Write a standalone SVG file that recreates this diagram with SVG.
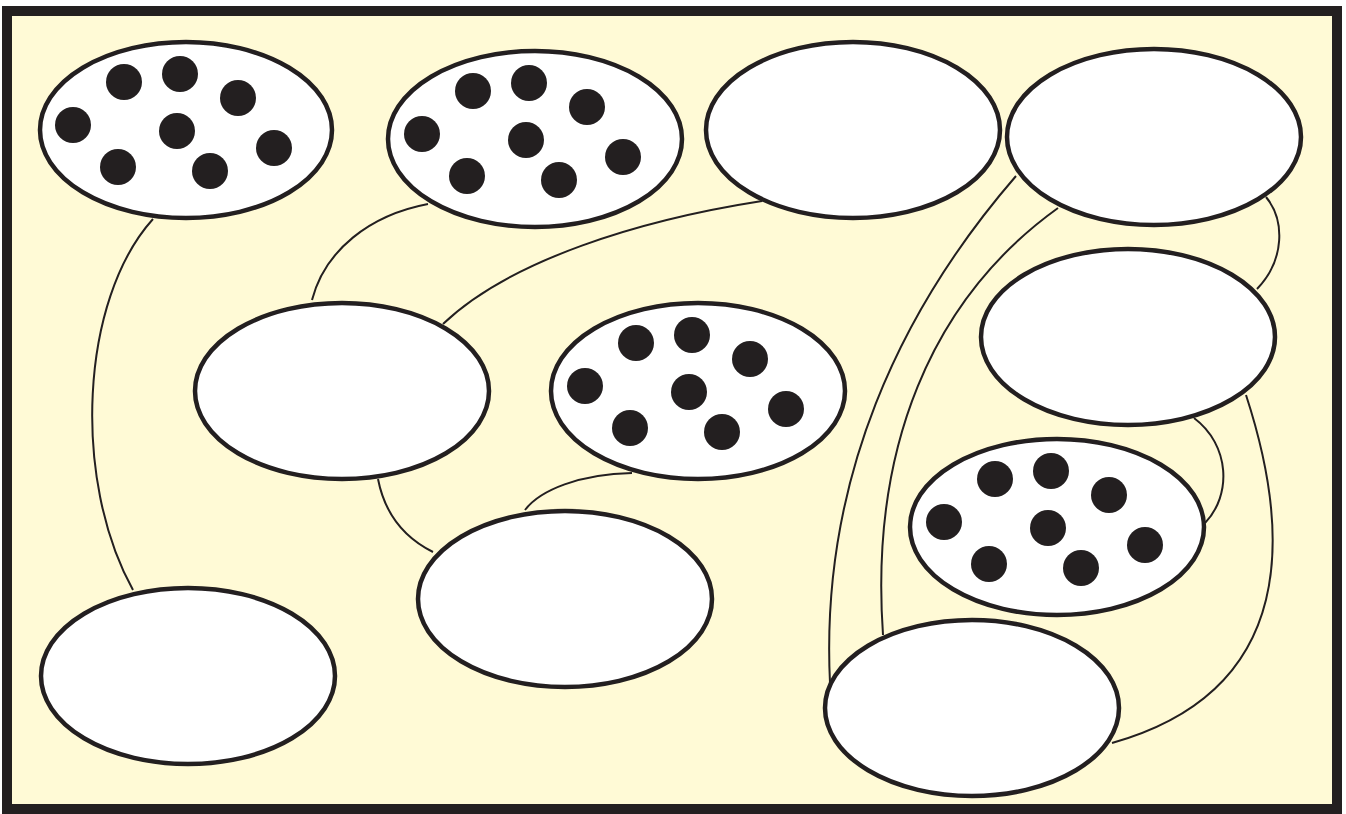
<svg xmlns="http://www.w3.org/2000/svg" xmlns:xlink="http://www.w3.org/1999/xlink" width="1346" height="814" viewBox="0 0 1346 814">
<style>
.frame{fill:#FFFAD6;stroke:#231F20;stroke-width:10}
.node{fill:#FFFFFF;stroke:#231F20;stroke-width:4.5}
.dot{fill:#231F20}
.edge{fill:none;stroke:#231F20;stroke-width:2}
</style>
<defs>
<g id="dots">
<circle class="dot" cx="-62" cy="-48" r="18"/>
<circle class="dot" cx="-6" cy="-56" r="18"/>
<circle class="dot" cx="52" cy="-32" r="18"/>
<circle class="dot" cx="-113" cy="-5" r="18"/>
<circle class="dot" cx="-9" cy="1" r="18"/>
<circle class="dot" cx="88" cy="18" r="18"/>
<circle class="dot" cx="-68" cy="37" r="18"/>
<circle class="dot" cx="24" cy="41" r="18"/>
</g>
</defs>
<rect class="frame" x="7" y="11" width="1330" height="798"/>
<g id="connectors">
<path class="edge" d="M153,219 C 80,300 72,480 133,590"/>
<path class="edge" d="M428,204 C 370,215 325,250 312,300"/>
<path class="edge" d="M762,201 C 640,220 510,260 443,324"/>
<path class="edge" d="M378,479 C 385,515 405,538 433,552"/>
<path class="edge" d="M632,473 C 580,474 540,490 525,510"/>
<path class="edge" d="M1016,176 C 900,310 820,480 830,683"/>
<path class="edge" d="M1058,208 C 930,300 870,450 883,635"/>
<path class="edge" d="M1266,197 C 1285,220 1285,260 1257,289"/>
<path class="edge" d="M1194,418 C 1230,445 1232,495 1205,523"/>
<path class="edge" d="M1246,395 C 1290,530 1300,690 1112,743"/>
</g>
<g id="n1"><ellipse class="node" cx="186" cy="130" rx="146" ry="88"/><use xlink:href="#dots" transform="translate(186,130)"/></g>
<g id="n2"><ellipse class="node" cx="535" cy="139" rx="147" ry="88"/><use xlink:href="#dots" transform="translate(535,139)"/></g>
<g id="n3"><ellipse class="node" cx="853" cy="130" rx="147" ry="88"/></g>
<g id="n4"><ellipse class="node" cx="1154" cy="137" rx="147" ry="88"/></g>
<g id="n5"><ellipse class="node" cx="342" cy="391" rx="147" ry="88"/></g>
<g id="n6"><ellipse class="node" cx="698" cy="391" rx="147" ry="88"/><use xlink:href="#dots" transform="translate(698,391)"/></g>
<g id="n7"><ellipse class="node" cx="1128" cy="337" rx="147" ry="88"/></g>
<g id="n8"><ellipse class="node" cx="1057" cy="527" rx="147" ry="88"/><use xlink:href="#dots" transform="translate(1057,527)"/></g>
<g id="n9"><ellipse class="node" cx="565" cy="599" rx="147" ry="88"/></g>
<g id="n10"><ellipse class="node" cx="188" cy="676" rx="147" ry="88"/></g>
<g id="n11"><ellipse class="node" cx="972" cy="708" rx="147" ry="88"/></g>
</svg>
